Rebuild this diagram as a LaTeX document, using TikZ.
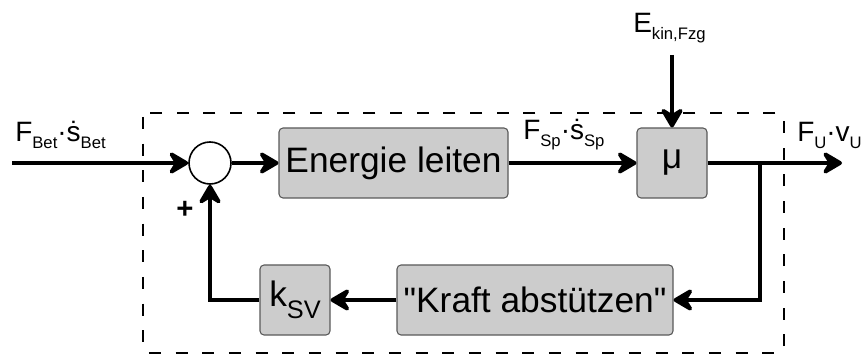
\documentclass[tikz,border=0pt]{standalone}
\usepackage{fontspec}
\setmainfont{Liberation Sans}
\usetikzlibrary{arrows.meta}
\tikzstyle{block}=[draw=black!65,fill=black!20,rounded corners=3pt,line width=0.8pt,minimum height=52.5pt,inner sep=0pt,font=\fontsize{26.5}{30}\selectfont]
\tikzstyle{sumpoint}=[circle,draw,line width=1.2pt,minimum size=31.5pt,inner sep=0pt]
\tikzstyle{edge}=[draw,line width=3.7pt,-{Stealth[length=18pt,width=21pt,inset=6.5pt,round]}]
\tikzstyle{signal}=[font=\fontsize{21}{24}\selectfont,anchor=base west,inner sep=0pt]
\tikzstyle{border}=[draw,line width=1.4pt,dash pattern=on 9pt off 11pt,rounded corners=3pt]
\newcommand{\lowsub}[1]{\raisebox{-5pt}{\fontsize{12.5}{14}\selectfont #1}}

\begin{document}
\begin{tikzpicture}[x=0.75pt,y=-0.75pt]
    \useasboundingbox (0,0) rectangle (861,356);

    % system border
    \path[border] (143,113) rectangle (784,353);

    \node[sumpoint] (sum) at (210,163) {};
    \foreach \x/\y/\w/\name/\text in {393.5/163/229/energie/{Energie leiten}, 672/163/70/mu/{μ},
        535/300/276/kraft/{\textquotedbl Kraft abstützen\textquotedbl}, 295/300/70/ksv/{k\raisebox{-9pt}{\fontsize{19}{22}\selectfont SV}}}
        \node[block, minimum width=\w*0.75pt] (\name) at (\x,\y) {\text};

    \coordinate (in) at (12,163);
    \coordinate (out) at (842,163);
    \coordinate (branch) at (760,163);
    \coordinate (kin) at (672,55);

    \draw[edge] (in) -- (sum);
    \draw[edge] (sum) -- (energie);
    \draw[edge] (energie) -- (mu);
    \draw[edge] (mu) -- (out);
    \draw[edge] (kin) -- (mu);
    \draw[edge] (branch) |- (kraft);
    \draw[edge] (kraft) -- (ksv);
    \draw[edge] (ksv.west) -| (sum.south);

    % signal names
    \node[signal] (lin) at (15,142) {F\lowsub{Bet}\textperiodcentered\.{s}\lowsub{Bet}};
    \node[signal] (lsp) at (523,140) {F\lowsub{Sp}\textperiodcentered\.{s}\lowsub{Sp}};
    \node[signal] (lkin) at (633,33) {E\lowsub{kin,Fzg}};
    \node[signal] (lout) at (797,142) {F\lowsub{U}\textperiodcentered v\lowsub{U}};
    \node[font=\fontsize{22}{24}\selectfont\bfseries,inner sep=0pt] (plus) at (185,210) {+};
\end{tikzpicture}
\end{document}
